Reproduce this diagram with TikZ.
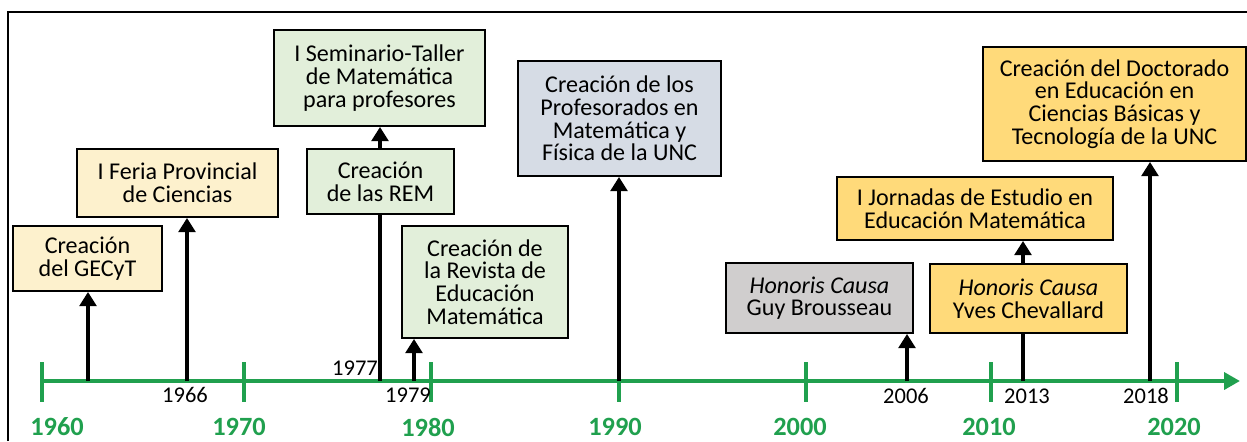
\documentclass[tikz,border=0pt]{standalone}
\usepackage{fontspec}
\setmainfont{Carlito}
\usetikzlibrary{positioning}
\usetikzlibrary{arrows.meta}
\usetikzlibrary{calc}
\definecolor{ejeverde}{HTML}{20A04E}
\definecolor{crema}{HTML}{FDF1CD}
\definecolor{verdeclaro}{HTML}{E2EFDA}
\definecolor{azulgris}{HTML}{D6DCE5}
\definecolor{grisclaro}{HTML}{D0CECE}
\definecolor{dorado}{HTML}{FFDA7A}

\begin{document}
\begin{tikzpicture}[x=0.02cm, y=-0.02cm,
    hito/.style={draw, line width=1.1pt, align=center, inner sep=0pt,
      font=\fontsize{13.7}{12.9}\selectfont},
    flecha/.style={line width=1.8pt, -{Triangle[width=9.5pt,length=8pt]}},
    linea/.style={line width=1.8pt},
    anio/.style={inner sep=0pt, font=\fontsize{12.8}{12.8}\selectfont},
    decada/.style={inner sep=0pt, text=ejeverde, font=\fontsize{15}{15}\selectfont\bfseries}]
    \useasboundingbox (0,0) rectangle (1247,441);
    \draw[line width=0.9pt] (8,441) -- (8,12) -- (1247,12);

    % eje del tiempo
    \coordinate (ini) at (42,381);
    \coordinate (fin) at (1240,381);
    \draw[ejeverde, line width=2.3pt, -{Triangle[width=9.5pt,length=9pt]}] (ini) -- (fin);
    \foreach \x/\d/\lx in {42/1960/57, 244/1970/239, 431/1980/428, 619/1990/615,
                           806/2000/800, 991/2010/989, 1177/2020/1174} {
      \draw[ejeverde, line width=2.3pt] (\x,362) -- (\x,402);
      \node[decada] (d\d) at (\lx,427) {\d};
    }

    % hitos
    \path (87.5,258.5) node[hito, fill=crema, minimum width=2.98cm, minimum height=1.3cm] (gecyt)
      {Creación\\del GECyT};
    \path (177.5,183) node[hito, fill=crema, minimum width=4.02cm, minimum height=1.36cm] (feria)
      {I Feria Provincial\\de Ciencias};
    \path (379.5,78) node[hito, fill=verdeclaro, minimum width=4.22cm, minimum height=1.92cm] (seminario)
      {I Seminario-Taller\\de Matemática\\para profesores};
    \path (380.5,181.5) node[hito, fill=verdeclaro, minimum width=2.94cm, minimum height=1.3cm] (rem)
      {Creación\\de las REM};
    \path (485,282) node[hito, fill=verdeclaro, minimum width=3.32cm, minimum height=2.24cm] (revista)
      {Creación de\\la Revista de\\Educación\\Matemática};
    \path (619.5,118.5) node[hito, fill=azulgris, minimum width=4.06cm, minimum height=2.3cm] (profes)
      {Creación de los\\Profesorados en\\Matemática y\\Física de la UNC};
    \path (819.5,298) node[hito, fill=grisclaro, minimum width=3.74cm, minimum height=1.4cm] (guy)
      {\textit{Honoris Causa}\\Guy Brousseau};
    \path (1028.5,298.5) node[hito, fill=dorado, minimum width=3.94cm, minimum height=1.38cm] (yves)
      {\textit{Honoris Causa}\\Yves Chevallard};
    \path (975,208.5) node[hito, fill=dorado, minimum width=5.52cm, minimum height=1.26cm] (jornadas)
      {I Jornadas de Estudio en\\Educación Matemática};
    \path (1114.5,104) node[hito, fill=dorado, minimum width=5.26cm, minimum height=2.28cm] (doctorado)
      {Creación del Doctorado\\en Educación en\\Ciencias Básicas y\\Tecnología de la UNC};

    % puntos sobre el eje
    \coordinate (a1963) at (88,381);
    \coordinate (a1966) at (187,381);
    \coordinate (a1977) at (380,381);
    \coordinate (a1979) at (414,381);
    \coordinate (a1990) at (619,381);
    \coordinate (a2006) at (907,381);
    \coordinate (a2013) at (1023,381);
    \coordinate (a2018) at (1150,381);

    \draw[flecha] (a1963) -- (a1963 |- gecyt.south);
    \draw[flecha] (a1966) -- (a1966 |- feria.south);
    \draw[linea] (a1977) -- (a1977 |- rem.south);
    \draw[flecha] (a1977 |- rem.north) -- (a1977 |- seminario.south);
    \draw[flecha] (a1979) -- (a1979 |- revista.south);
    \draw[flecha] (a1990) -- (a1990 |- profes.south);
    \draw[flecha] (a2006) -- (a2006 |- guy.south);
    \draw[linea] (a2013) -- (a2013 |- yves.south);
    \draw[flecha] (a2013 |- yves.north) -- (a2013 |- jornadas.south);
    \draw[flecha] (a2018) -- (a2018 |- doctorado.south);

    % años
    \node[anio] (t1966) at (185,395) {1966};
    \node[anio] (t1977) at (355,368) {1977};
    \node[anio] (t1979) at (408,395) {1979};
    \node[anio] (t2006) at (906,396) {2006};
    \node[anio] (t2013) at (1027,396) {2013};
    \node[anio] (t2018) at (1146,396) {2018};
\end{tikzpicture}
\end{document}
